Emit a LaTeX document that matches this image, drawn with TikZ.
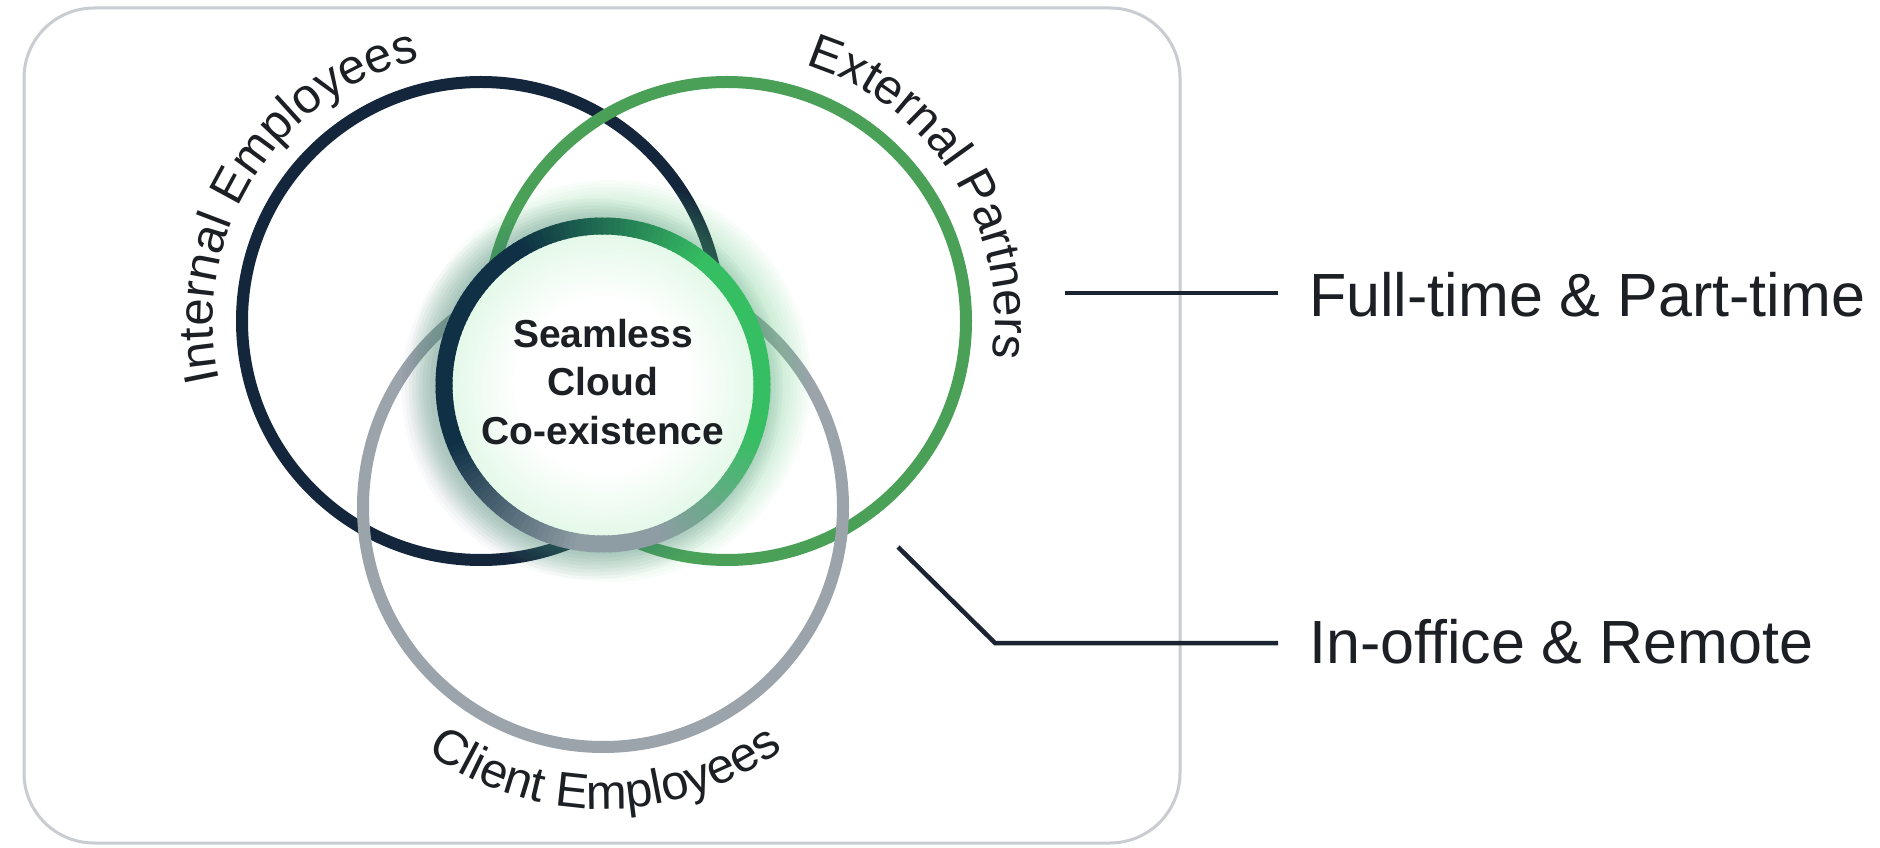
\documentclass[tikz,border=0pt]{standalone}
\usepackage{fontspec}
\setmainfont{Liberation Sans}
\usetikzlibrary{decorations.text}
\definecolor{inav}{HTML}{14263B}
\definecolor{egrn}{HTML}{4AA057}
\definecolor{cgry}{HTML}{9BA3AB}
\definecolor{rnav}{HTML}{0F3045}
\definecolor{rgrn}{HTML}{36BE62}
\definecolor{rgry}{HTML}{8E9CA4}
\definecolor{mintA}{HTML}{CDF3D6}
\definecolor{mintB}{HTML}{93E1A7}
\definecolor{txt}{HTML}{1C1F24}
\definecolor{lead}{HTML}{1B2432}
\definecolor{framec}{HTML}{C9CCD0}
\definecolor{glowg}{HTML}{5CD07C}
\definecolor{glown}{HTML}{3A5570}
\pgfdeclareradialshading{corefill}{\pgfpoint{0bp}{0bp}}{color(0bp)=(white); color(14bp)=(white); color(34bp)=(mintA); color(50bp)=(mintB)}
\newcommand\arcfont{\fontsize{49}{49}\selectfont}
\begin{document}
\begin{tikzpicture}[x=1pt,y=1pt,
  ring/.style={circle, draw, line width=12pt, minimum size=478pt, inner sep=0pt},
  leader/.style={draw=lead, line width=4.5pt},
  sidelabel/.style={anchor=base west, inner sep=0pt, font=\fontsize{61}{61}\selectfont, text=txt},
  arclabel/.style={decorate, decoration={text along path, text={#1}, text align=center, text color=txt}},
  seg/.style={line width=17pt}
]
\fill[white] (0,0) rectangle (1880,847);
\useasboundingbox (0,0) rectangle (1880,847);
\draw[framec, line width=3pt, rounded corners=70pt] (24,4) rectangle (1180,839);

% three group circles
\node[ring, draw=inav] (int) at (481,526) {};
\node[ring, draw=egrn] (ext) at (727,526) {};
\node[ring, draw=cgry, minimum size=480pt] (cli) at (603,340) {};

% glow around the core
\foreach \k in {1,...,12} { \fill[glowg, opacity=0.035] (610,466) circle ({159+3.5*\k}); }
\foreach \k in {1,...,9} { \fill[glown, opacity=0.03] (592,458) circle ({159+3.5*\k}); }

% core
\node[circle, minimum size=318pt, inner sep=0pt] (core) at (603,462) {};
\shade[shading=corefill] (core.center) circle (152);
\foreach \a in {-20,-18,...,48} { \draw[seg, rgrn] ([shift={(\a:159)}]core.center) arc[start angle=\a, end angle=\a+2.6, radius=159]; }
\foreach \a in {50,52,...,118} { \pgfmathsetmacro\p{(\a-50)/70*100} \draw[seg, color=rnav!\p!rgrn] ([shift={(\a:159)}]core.center) arc[start angle=\a, end angle=\a+2.6, radius=159]; }
\foreach \a in {120,122,...,198} { \draw[seg, rnav] ([shift={(\a:159)}]core.center) arc[start angle=\a, end angle=\a+2.6, radius=159]; }
\foreach \a in {200,202,...,258} { \pgfmathsetmacro\p{(\a-200)/60*100} \draw[seg, color=rgry!\p!rnav] ([shift={(\a:159)}]core.center) arc[start angle=\a, end angle=\a+2.6, radius=159]; }
\foreach \a in {260,262,...,288} { \draw[seg, rgry] ([shift={(\a:159)}]core.center) arc[start angle=\a, end angle=\a+2.6, radius=159]; }
\foreach \a in {290,292,...,338} { \pgfmathsetmacro\p{(\a-290)/50*100} \draw[seg, color=rgrn!\p!rgry] ([shift={(\a:159)}]core.center) arc[start angle=\a, end angle=\a+2.6, radius=159]; }

\node[align=center, font=\fontsize{39}{48.5}\selectfont\bfseries, text=txt, inner sep=0pt] (lbl) at (603,465) {Seamless\\Cloud\\Co-existence};

% curved labels
\path[arclabel={|\arcfont|Internal Employees}] ([shift={(208:268)}]int.center) arc[start angle=208, end angle=88, radius=268];
\path[arclabel={|\arcfont|External Partners}] ([shift={(92.5:268)}]ext.center) arc[start angle=92.5, end angle=-27.5, radius=268];
\path[arclabel={|\arcfont|Client Employees}] ([shift={(210.5:302)}]cli.center) arc[start angle=210.5, end angle=330.5, radius=302];

% side labels and leaders
\node[sidelabel] (ft) at (1309,530) {Full-time \& Part-time};
\node[sidelabel] (io) at (1309,184) {In-office \& Remote};
\coordinate (fA) at (1065,554);
\coordinate (iA) at (898,300);
\coordinate (iB) at (995,204);
\draw[leader, shorten >=31pt] (fA) -- (fA -| ft.west);
\draw[leader, shorten >=31pt] (iA) -- (iB) -- (iB -| io.west);
\end{tikzpicture}
\end{document}
